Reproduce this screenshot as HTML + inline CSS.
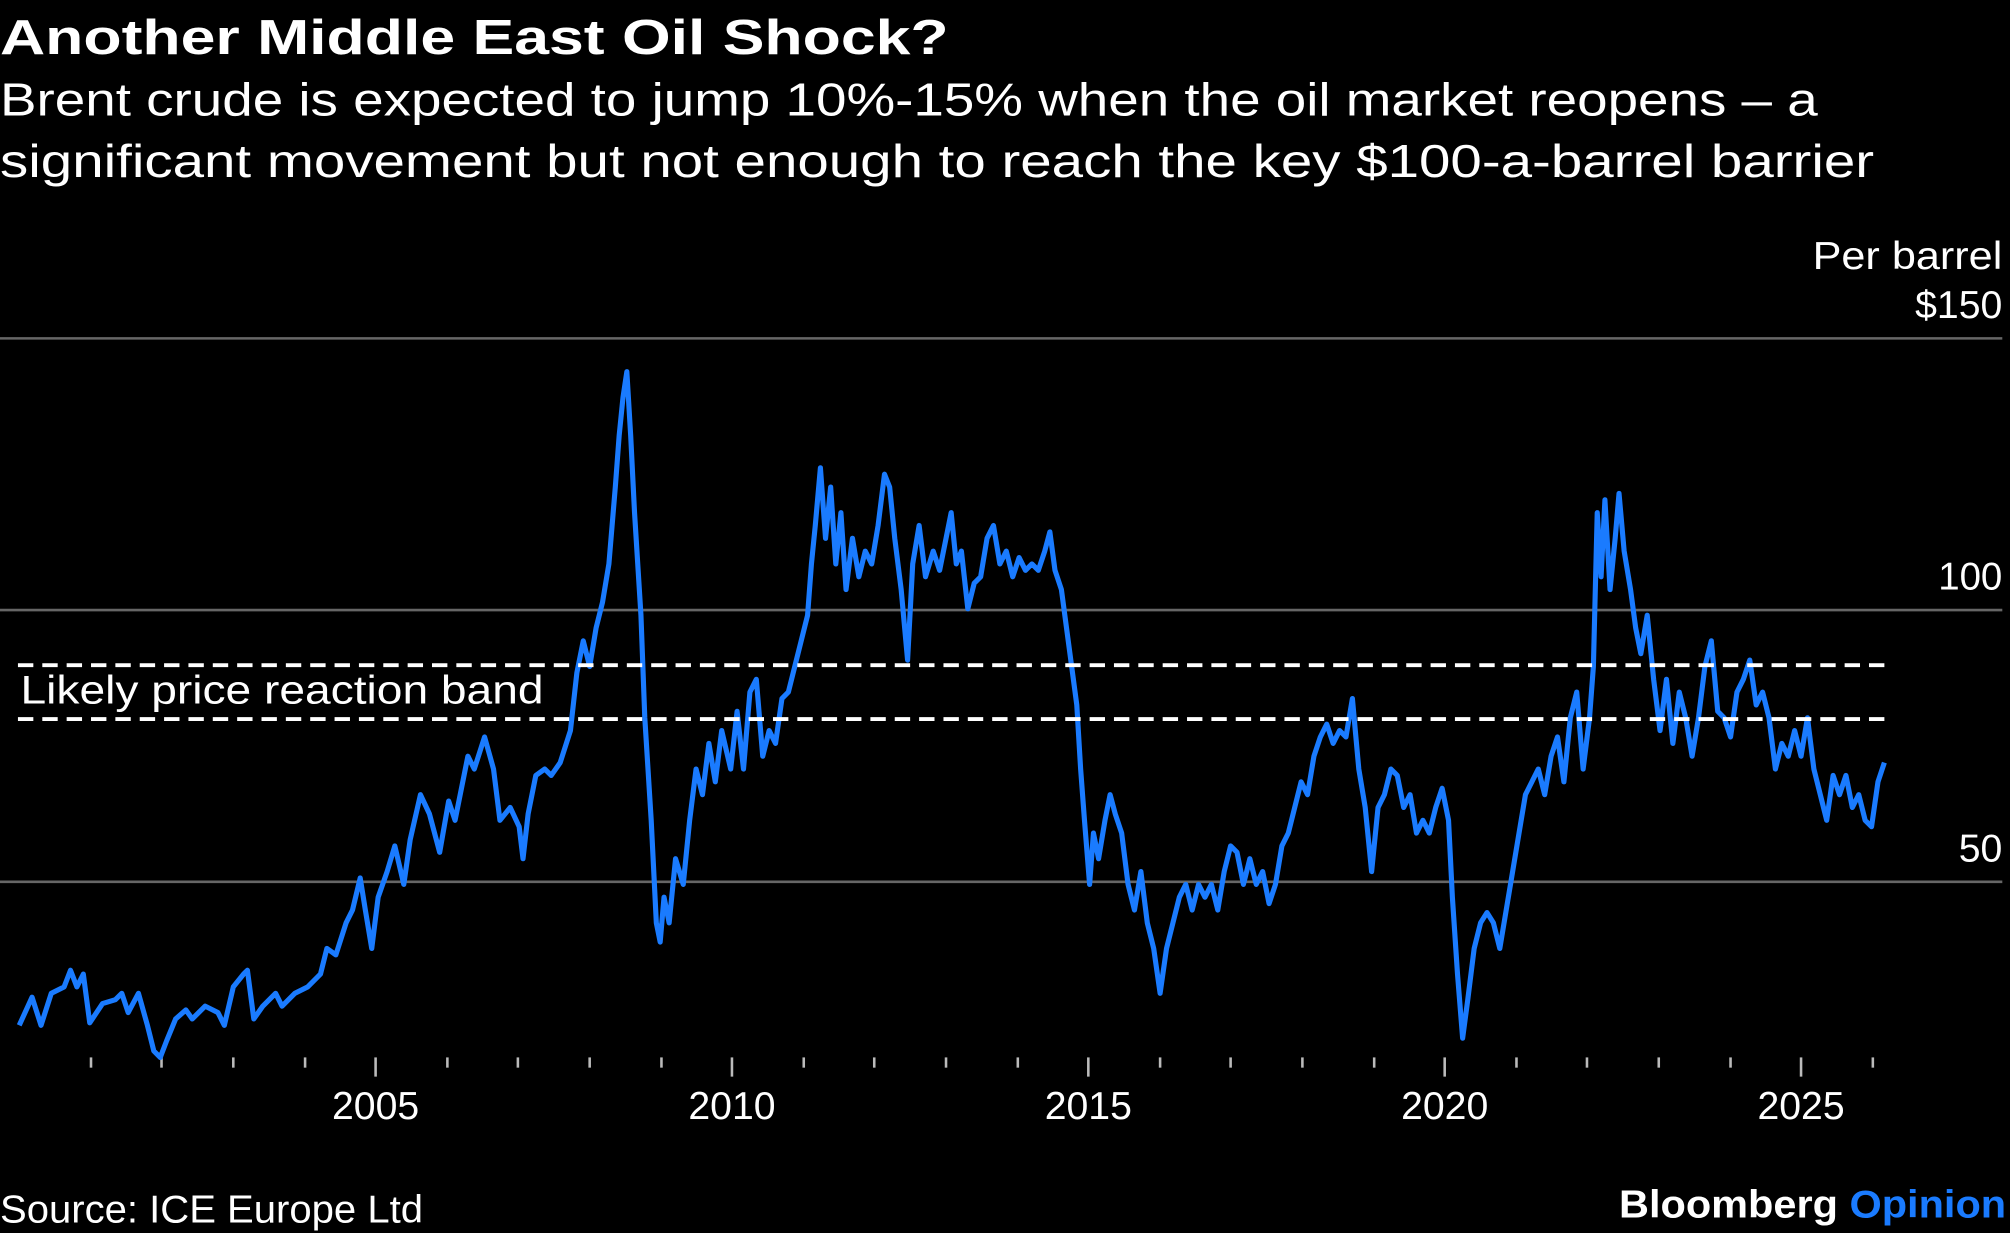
<!DOCTYPE html>
<html><head><meta charset="utf-8"><style>
html,body{margin:0;padding:0;background:#000;}
svg{display:block;}
text{font-family:"Liberation Sans",sans-serif;fill:#fff;}
</style></head><body>
<svg width="2010" height="1233" viewBox="0 0 1568 962" preserveAspectRatio="none" xmlns="http://www.w3.org/2000/svg">
<rect width="1568" height="962" fill="#000"/>
<text x="0" y="42" font-size="38" font-weight="bold" textLength="740" lengthAdjust="spacingAndGlyphs">Another Middle East Oil Shock?</text>
<text x="0" y="90" font-size="36" textLength="1418" lengthAdjust="spacingAndGlyphs">Brent crude is expected to jump 10%-15% when the oil market reopens – a</text>
<text x="0" y="138" font-size="36" textLength="1462" lengthAdjust="spacingAndGlyphs">significant movement but not enough to reach the key $100-a-barrel barrier</text>
<g font-size="30" text-anchor="end">
<text x="1562" y="210" textLength="148" lengthAdjust="spacingAndGlyphs">Per barrel</text>
<text x="1562" y="248" textLength="68" lengthAdjust="spacingAndGlyphs">$150</text>
<text x="1562" y="460" textLength="50" lengthAdjust="spacingAndGlyphs">100</text>
<text x="1562" y="672" textLength="34" lengthAdjust="spacingAndGlyphs">50</text>
</g>
<g stroke="#666" stroke-width="2">
<line x1="0" y1="264" x2="1562" y2="264"/>
<line x1="0" y1="476" x2="1562" y2="476"/>
<line x1="0" y1="688" x2="1562" y2="688"/>
</g>
<g stroke="#bbb" stroke-width="2">
<line x1="71" y1="825" x2="71" y2="833"/><line x1="126" y1="825" x2="126" y2="833"/><line x1="182" y1="825" x2="182" y2="833"/><line x1="238" y1="825" x2="238" y2="833"/>
<line x1="293" y1="825" x2="293" y2="840"/>
<line x1="349" y1="825" x2="349" y2="833"/><line x1="404" y1="825" x2="404" y2="833"/><line x1="460" y1="825" x2="460" y2="833"/><line x1="516" y1="825" x2="516" y2="833"/>
<line x1="571" y1="825" x2="571" y2="840"/>
<line x1="627" y1="825" x2="627" y2="833"/><line x1="682" y1="825" x2="682" y2="833"/><line x1="738" y1="825" x2="738" y2="833"/><line x1="794" y1="825" x2="794" y2="833"/>
<line x1="849" y1="825" x2="849" y2="840"/>
<line x1="905" y1="825" x2="905" y2="833"/><line x1="960" y1="825" x2="960" y2="833"/><line x1="1016" y1="825" x2="1016" y2="833"/><line x1="1072" y1="825" x2="1072" y2="833"/>
<line x1="1127" y1="825" x2="1127" y2="840"/>
<line x1="1183" y1="825" x2="1183" y2="833"/><line x1="1238" y1="825" x2="1238" y2="833"/><line x1="1294" y1="825" x2="1294" y2="833"/><line x1="1350" y1="825" x2="1350" y2="833"/>
<line x1="1405" y1="825" x2="1405" y2="840"/>
<line x1="1461" y1="825" x2="1461" y2="833"/>
</g>
<g font-size="30" text-anchor="middle">
<text x="293" y="873" textLength="68" lengthAdjust="spacingAndGlyphs">2005</text>
<text x="571" y="873" textLength="68" lengthAdjust="spacingAndGlyphs">2010</text>
<text x="849" y="873" textLength="68" lengthAdjust="spacingAndGlyphs">2015</text>
<text x="1127" y="873" textLength="68" lengthAdjust="spacingAndGlyphs">2020</text>
<text x="1405" y="873" textLength="68" lengthAdjust="spacingAndGlyphs">2025</text>
</g>
<polyline fill="none" stroke="#1a7bff" stroke-width="4" stroke-linejoin="round" points="15,800 25,778 32,800 40,775 50,770 55,757 60,770 65,760 70,798 80,783 90,780 95,775 100,790 108,775 115,800 120,820 125,825 130,812 137,795 145,788 150,795 160,785 170,790 175,800 182,770 190,760 193,757 198,795 205,785 215,775 220,785 230,775 240,770 250,760 255,740 262,745 270,720 275,710 281,685 285,710 290,740 295,700 302,680 308,660 315,690 320,655 328,620 335,635 343,665 350,625 355,640 365,590 370,600 378,575 385,600 390,640 398,630 405,645 408,670 412,635 418,605 425,600 430,605 437,595 445,570 450,525 455,500 460,520 465,490 470,470 475,440 480,380 483,340 486,310 489,290 492,340 495,400 500,480 503,560 508,640 512,720 515,735 518,700 522,720 527,670 533,690 538,640 543,600 548,620 553,580 558,610 563,570 570,600 575,555 580,600 585,540 590,530 595,590 600,570 605,580 610,545 615,540 620,520 625,500 630,480 633,440 636,410 640,365 644,420 648,380 652,440 656,400 660,460 665,420 670,450 675,430 680,440 685,410 690,370 694,380 698,420 703,460 708,515 712,440 717,410 722,450 728,430 733,445 738,420 742,400 746,440 750,430 755,475 760,455 765,450 770,420 775,410 780,440 785,430 790,450 795,435 800,445 805,440 810,445 815,430 819,415 823,445 828,460 832,490 836,520 840,550 843,600 846,640 850,690 853,650 857,670 862,640 866,620 870,635 875,650 880,690 885,710 890,680 895,720 900,740 905,775 910,740 915,720 920,700 925,690 930,710 935,690 940,700 945,690 950,710 955,680 960,660 965,665 970,690 975,670 980,690 985,680 990,705 995,690 1000,660 1005,650 1010,630 1015,610 1020,620 1025,590 1030,575 1035,565 1040,580 1045,570 1050,575 1055,545 1060,600 1065,630 1070,680 1075,630 1080,620 1085,600 1090,605 1095,630 1100,620 1105,650 1110,640 1115,650 1120,630 1125,615 1130,640 1133,700 1137,760 1141,810 1145,780 1150,740 1155,720 1160,712 1165,720 1170,740 1175,710 1180,680 1185,650 1190,620 1195,610 1200,600 1205,620 1210,590 1215,575 1220,610 1225,560 1230,540 1235,600 1240,560 1243,520 1246,400 1249,450 1252,390 1256,460 1260,420 1263,385 1267,430 1272,460 1276,490 1280,510 1285,480 1290,530 1295,570 1300,530 1305,580 1310,540 1315,560 1320,590 1325,560 1330,520 1335,500 1340,555 1345,560 1350,575 1355,540 1360,530 1365,515 1370,550 1375,540 1380,560 1385,600 1390,580 1395,590 1400,570 1405,590 1410,560 1415,600 1420,620 1425,640 1430,605 1435,620 1440,605 1445,630 1450,620 1455,640 1460,645 1465,610 1470,595"/>
<g stroke="#fff" stroke-width="3" stroke-dasharray="12,7">
<line x1="14" y1="519" x2="1470" y2="519"/>
<line x1="14" y1="561" x2="1470" y2="561"/>
</g>
<text x="16" y="549" font-size="31" textLength="408" lengthAdjust="spacingAndGlyphs">Likely price reaction band</text>
<text x="0" y="954" font-size="30" textLength="330" lengthAdjust="spacingAndGlyphs">Source: ICE Europe Ltd</text>
<text x="1565" y="950" font-size="30" font-weight="bold" text-anchor="end" textLength="302" lengthAdjust="spacingAndGlyphs">Bloomberg <tspan fill="#1a7bff">Opinion</tspan></text>
</svg>
</body></html>
